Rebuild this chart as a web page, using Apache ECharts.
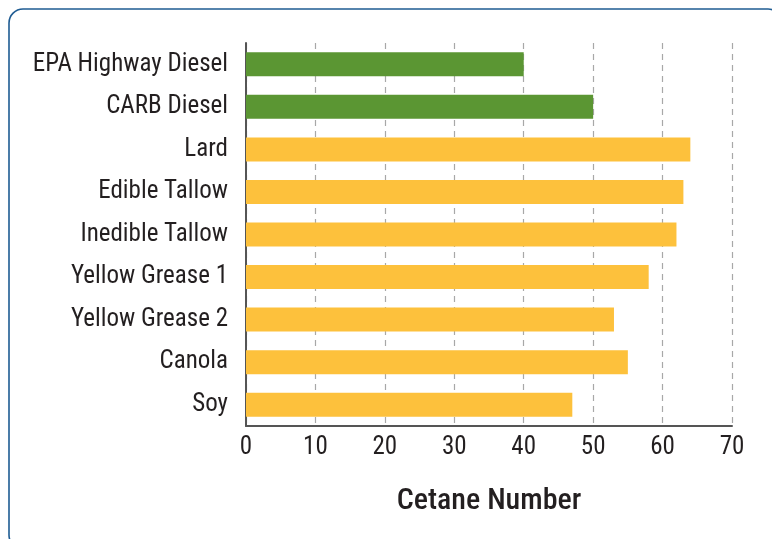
<!DOCTYPE html>
<html>
<head>
<meta charset="utf-8">
<script src="https://cdn.jsdelivr.net/npm/echarts@6/dist/echarts.min.js"></script>
<style>
  html, body { margin: 0; padding: 0; background: #fff; }
  #chart { width: 772px; height: 539px; }
</style>
</head>
<body>
<div id="chart"></div>
<script>
const categories = ['EPA Highway Diesel', 'CARB Diesel', 'Lard', 'Edible Tallow', 'Inedible Tallow',
  'Yellow Grease 1', 'Yellow Grease 2', 'Canola', 'Soy'];
const cetane = [40, 50, 64, 63, 62, 58, 53, 55, 47];
const fuelGroup = ['petroleum', 'petroleum', 'biodiesel', 'biodiesel', 'biodiesel',
  'biodiesel', 'biodiesel', 'biodiesel', 'biodiesel'];
const xTicks = [0, 10, 20, 30, 40, 50, 60, 70];

const groupColors = { petroleum: '#5b9633', biodiesel: '#fdc13c' };
const font = '"Liberation Sans Narrow", "Roboto Condensed", "Liberation Sans", sans-serif';

const chart = echarts.init(document.getElementById('chart'));

chart.setOption({
  animation: false,
  graphic: [{
    type: 'rect',
    shape: { x: 9, y: 9, width: 773, height: 540, r: 14 },
    style: { fill: 'none', stroke: '#1f5c93', lineWidth: 1.6 },
    silent: true
  }],
  grid: { left: 246, right: 40, top: 43, bottom: 113 },
  xAxis: {
    type: 'value',
    min: xTicks[0],
    max: xTicks[xTicks.length - 1],
    interval: 10,
    name: 'Cetane Number',
    nameLocation: 'middle',
    nameGap: 60,
    nameTextStyle: { fontFamily: font, fontSize: 30, fontWeight: 500, color: '#231f20' },
    axisLine: { show: true, lineStyle: { color: '#555', width: 2 } },
    axisTick: { show: false },
    axisLabel: { fontFamily: font, fontSize: 25, color: '#231f20', margin: 9 },
    splitLine: {
      show: true,
      lineStyle: { color: '#a8a8a8', type: [6, 5], width: 1.2 }
    }
  },
  yAxis: {
    type: 'category',
    data: categories,
    inverse: true,
    axisLine: { show: true, lineStyle: { color: '#555', width: 2 } },
    axisTick: { show: false },
    axisLabel: { fontFamily: font, fontSize: 25, color: '#231f20', margin: 18 },
    splitLine: { show: false }
  },
  series: [{
    type: 'bar',
    barWidth: 24,
    data: cetane.map((v, i) => ({
      value: v,
      itemStyle: { color: groupColors[fuelGroup[i]] }
    }))
  }]
});
</script>
</body>
</html>
